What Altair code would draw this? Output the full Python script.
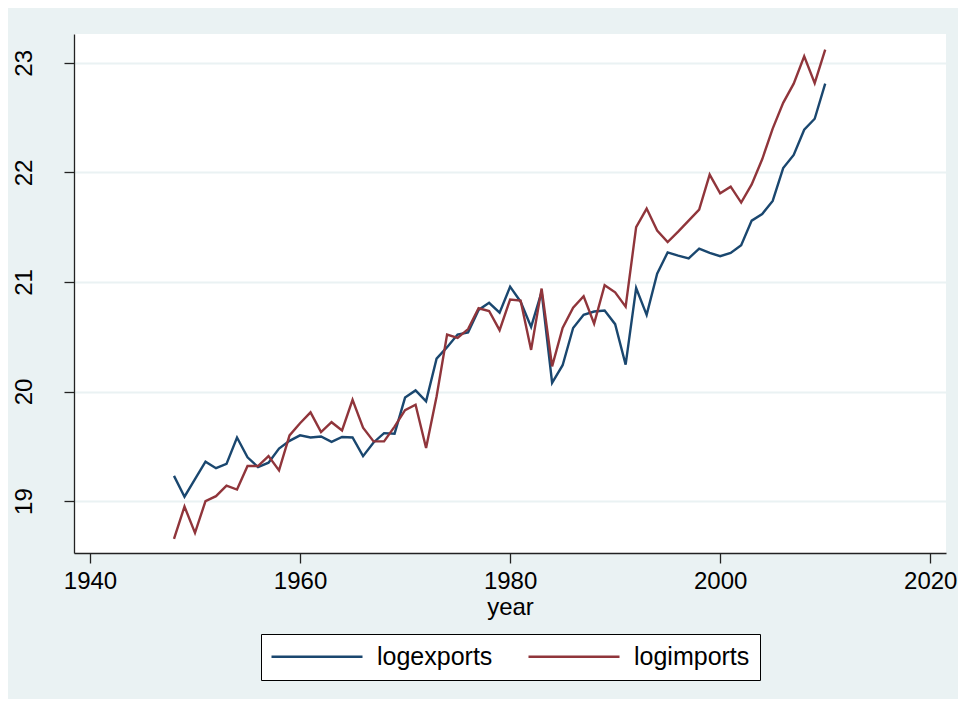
import altair as alt
import pandas as pd

years = list(range(1948, 2011))

logexports = [
    19.23, 19.04, 19.20, 19.36, 19.30, 19.34, 19.58, 19.40, 19.31, 19.35,
    19.48, 19.55, 19.60, 19.58, 19.59, 19.54, 19.585, 19.58, 19.41, 19.535,
    19.62, 19.615, 19.945, 20.01, 19.91, 20.30, 20.405, 20.52, 20.54, 20.745,
    20.81, 20.72, 20.957, 20.82, 20.59, 20.91, 20.08, 20.24, 20.58, 20.70,
    20.73, 20.74, 20.615, 20.245, 20.945, 20.70, 21.075, 21.27, 21.24, 21.215,
    21.305, 21.265, 21.235, 21.265, 21.335, 21.56, 21.62, 21.74, 22.04, 22.16,
    22.39, 22.49, 22.81,
]

logimports = [
    18.655, 18.95, 18.71, 19.00, 19.045, 19.14, 19.105, 19.32, 19.32, 19.41,
    19.28, 19.60, 19.71, 19.81, 19.63, 19.72, 19.645, 19.925, 19.67, 19.545,
    19.545, 19.68, 19.83, 19.88, 19.485, 19.955, 20.52, 20.49, 20.57, 20.76,
    20.735, 20.56, 20.84, 20.83, 20.38, 20.94, 20.23, 20.58, 20.765, 20.87,
    20.62, 20.97, 20.905, 20.775, 21.50, 21.67, 21.47, 21.365, 21.46, 21.56,
    21.66, 21.98, 21.81, 21.87, 21.725, 21.89, 22.12, 22.40, 22.635, 22.81,
    23.06, 22.815, 23.12,
]

series_names = ["logexports", "logimports"]
series_colors = ["#1a476f", "#90353b"]
x_ticks = [1940, 1960, 1980, 2000, 2020]
y_ticks = [19, 20, 21, 22, 23]

rows = []
for name, vals in zip(series_names, [logexports, logimports]):
    for yr, v in zip(years, vals):
        rows.append({"year": yr, "value": v, "series": name})
df = pd.DataFrame(rows)

FONT = "Liberation Sans"

chart = (
    alt.Chart(df)
    .mark_line(strokeWidth=2.4, clip=True)
    .encode(
        x=alt.X(
            "year:Q",
            scale=alt.Scale(domain=[1938.48, 2021.5], nice=False, zero=False),
            axis=alt.Axis(
                values=x_ticks,
                format="d",
                title="year",
                grid=False,
                tickSize=10,
                labelPadding=6,
                titlePadding=2,
            ),
        ),
        y=alt.Y(
            "value:Q",
            scale=alt.Scale(domain=[18.526, 23.2635], nice=False, zero=False),
            axis=alt.Axis(
                values=y_ticks,
                format="d",
                title=None,
                grid=True,
                tickSize=10,
                labelAngle=270,
                labelAlign="center",
                labelBaseline="bottom",
                labelPadding=28,
            ),
        ),
        color=alt.Color(
            "series:N",
            scale=alt.Scale(domain=series_names, range=series_colors),
            legend=alt.Legend(
                title=None,
                orient="none",
                legendX=187,
                legendY=600,
                direction="horizontal",
                symbolType="M-2.4,0H15.8",
                symbolSize=100,
                symbolStrokeWidth=2.4,
                labelFontSize=25,
                labelFont=FONT,
                labelColor="#000000",
                labelOffset=81,
                columnPadding=30,
                padding=10,
                strokeColor="#000000",
                fillColor="#ffffff",
            ),
        ),
    )
    .properties(
        width=872,
        height=519,
        autosize=alt.AutoSizeParams(type="none"),
        padding={"left": 66, "top": 26, "right": 12, "bottom": 146},
        background="#eaf2f3",
    )
    .configure_view(stroke=None, fill="#ffffff")
    .configure_axis(
        labelFont=FONT,
        titleFont=FONT,
        labelFontSize=24,
        titleFontSize=24,
        titleFontWeight="normal",
        labelColor="#000000",
        titleColor="#000000",
        domainColor="#222222",
        domainWidth=1.3,
        tickColor="#222222",
        tickWidth=1.3,
        gridColor="#eaf2f3",
        gridWidth=2,
    )
)

chart.save("out.html", embed_options={"renderer": "svg", "actions": False})
